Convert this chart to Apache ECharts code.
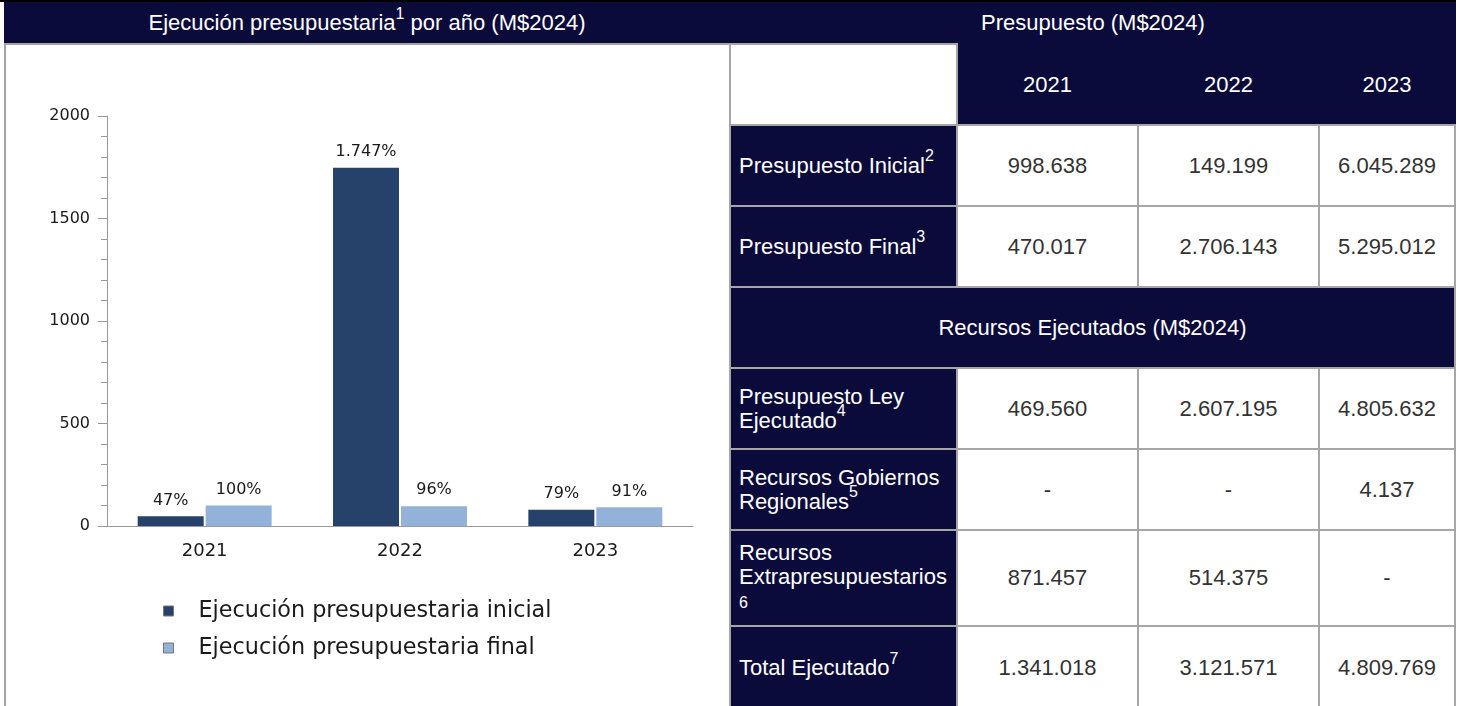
<!DOCTYPE html>
<html><head><meta charset="utf-8">
<script src="https://cdn.jsdelivr.net/npm/echarts@6/dist/echarts.min.js"></script>
<style>
html,body{margin:0;padding:0;background:#fff}
body{width:1463px;height:706px;overflow:hidden;position:relative;font-family:"Liberation Sans",Arial,sans-serif}
#topline{position:absolute;left:0;top:0;width:1456px;height:2px;background:#000}
#hdr{position:absolute;left:4px;top:2px;width:1452px;height:41px;background:#0b0b3b;color:#fff}
.h{position:absolute;top:0;height:41px;line-height:42px;text-align:center;font-size:22px}
.h sup{font-size:16px;line-height:0;position:relative;top:-3px}
#panel{position:absolute;left:4px;top:43px;width:726px;height:663px;border-left:2px solid #a3a3a3;border-top:2px solid #a3a3a3;box-sizing:border-box}
#chart{position:absolute;left:5px;top:44px;width:724px;height:662px}
#tbl{position:absolute;left:729px;top:43px;border-collapse:collapse;table-layout:fixed;width:727px}
#tbl td{border:2px solid #a6a6a6;padding:0;font-size:22px;line-height:24px;color:#333;text-align:center;vertical-align:middle;box-sizing:border-box;overflow:visible}
#tbl td.lab{background:#0b0b3b;color:#fff;text-align:left;padding-left:8px;padding-right:0}
#tbl td.yr{background:#0b0b3b;color:#fff;border-top-color:#0b0b3b;border-left-color:#0b0b3b;border-right-color:#0b0b3b}
#tbl td.sec{background:#0b0b3b;color:#fff}
#tbl td.blank{background:#fff}
#tbl sup{font-size:16px;line-height:0;position:relative;top:-3px;vertical-align:super}
#tbl .supline{font-size:16px}
</style>
</head><body>
<div id="topline"></div>
<div id="hdr">
  <div class="h" style="left:0;width:726px">Ejecución presupuestaria<sup>1</sup> por año (M$2024)</div>
  <div class="h" style="left:726px;width:726px">Presupuesto (M$2024)</div>
</div>
<div id="panel"></div>
<div id="chart"></div>
<table id="tbl"></table>
<script>
// ---- Chart data ----
const years = ['2021', '2022', '2023'];
const ejecucionInicial = [47, 1747, 79];
const ejecucionFinal = [100, 96, 91];
const seriesNames = ['Ejecución presupuestaria inicial', 'Ejecución presupuestaria final'];
const yMin = 0, yMax = 2000, yInterval = 500;

// ---- Table data ----
const tableYears = ['2021', '2022', '2023'];
const presupuestoInicial = ['998.638', '149.199', '6.045.289'];
const presupuestoFinal = ['470.017', '2.706.143', '5.295.012'];
const presupuestoLeyEjecutado = ['469.560', '2.607.195', '4.805.632'];
const recursosGobiernosRegionales = ['-', '-', '4.137'];
const recursosExtrapresupuestarios = ['871.457', '514.375', '-'];
const totalEjecutado = ['1.341.018', '3.121.571', '4.809.769'];
const sectionTitle = 'Recursos Ejecutados (M$2024)';

// ---- Build table ----
const colW = [227, 181, 181, 136];
const tbl = document.getElementById('tbl');
tbl.style.width = colW.reduce((a, b) => a + b, 0) + 'px';
let html = '<colgroup>' + colW.map(w => '<col style="width:' + w + 'px">').join('') + '</colgroup>';
html += '<tr style="height:81px"><td class="blank"></td>' + tableYears.map(y => '<td class="yr">' + y + '</td>').join('') + '</tr>';
function row(label, vals, h) {
  return '<tr style="height:' + h + 'px"><td class="lab">' + label + '</td>' + vals.map(v => '<td>' + v + '</td>').join('') + '</tr>';
}
html += row('Presupuesto Inicial<sup>2</sup>', presupuestoInicial, 81);
html += row('Presupuesto Final<sup>3</sup>', presupuestoFinal, 81);
html += '<tr style="height:81px"><td class="sec" colspan="4">' + sectionTitle + '</td></tr>';
html += row('Presupuesto Ley Ejecutado<sup>4</sup>', presupuestoLeyEjecutado, 81);
html += row('Recursos Gobiernos Regionales<sup>5</sup>', recursosGobiernosRegionales, 81);
html += row('Recursos<br>Extrapresupuestarios<br><span class="supline">6</span>', recursosExtrapresupuestarios, 96);
html += row('Total Ejecutado<sup>7</sup>', totalEjecutado, 84);
tbl.innerHTML = html;

// ---- Chart ----
function fmtPct(p) {
  return String(p.value).replace(/\B(?=(\d{3})+(?!\d))/g, '.') + '%';
}
const font = 'DejaVu Sans';
const chart = echarts.init(document.getElementById('chart'), null, {renderer: 'canvas'});
const labelStyle = {show: true, position: 'top', distance: 8, formatter: fmtPct, fontFamily: font, fontSize: 16, color: '#1a1a1a'};
chart.setOption({
  animation: false,
  backgroundColor: 'transparent',
  grid: {left: 102, top: 72, width: 586, height: 410, containLabel: false},
  legend: {
    orient: 'vertical', left: 158, top: 556, padding: 0, itemWidth: 10, itemHeight: 10, itemGap: 15, icon: 'rect',
    itemStyle: {borderColor: '#777', borderWidth: 1},
    textStyle: {fontFamily: font, fontSize: 22.3, color: '#1a1a1a', lineHeight: 22, padding: [0, 0, 0, 20]},
    data: seriesNames
  },
  xAxis: {
    type: 'category', data: years,
    axisLine: {lineStyle: {color: '#999', width: 1}},
    axisTick: {show: false},
    axisLabel: {fontFamily: font, fontSize: 18, color: '#1a1a1a', margin: 16}
  },
  yAxis: {
    type: 'value', min: yMin, max: yMax, interval: yInterval,
    splitLine: {show: false},
    axisLine: {show: true, lineStyle: {color: '#999', width: 1}},
    axisTick: {show: true, length: 9, lineStyle: {color: '#999'}},
    minorTick: {show: true, splitNumber: 5, length: 6, lineStyle: {color: '#999'}},
    axisLabel: {fontFamily: font, fontSize: 16, color: '#1a1a1a', margin: 17, formatter: v => String(v)}
  },
  series: [
    {type: 'bar', name: seriesNames[0], data: ejecucionInicial, barWidth: 66, barGap: '3%',
     itemStyle: {color: '#26426a'}, label: labelStyle},
    {type: 'bar', name: seriesNames[1], data: ejecucionFinal, barWidth: 66, barGap: '3%',
     itemStyle: {color: '#93b2d9'}, label: labelStyle}
  ]
});
</script>
</body></html>
